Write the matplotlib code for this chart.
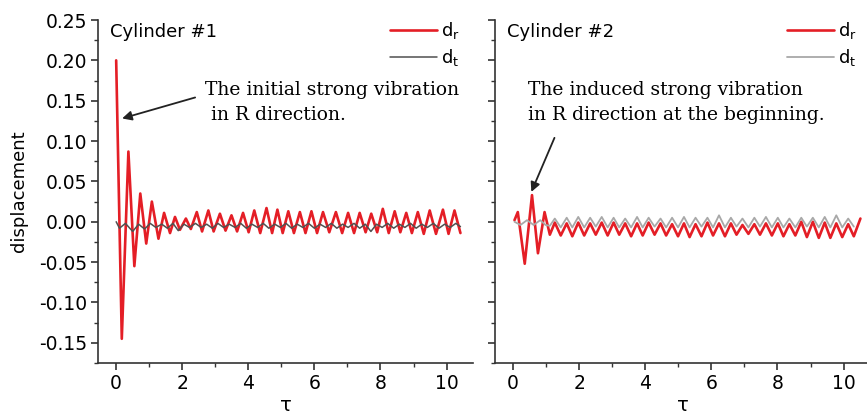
import numpy as np
import matplotlib
matplotlib.use("Agg")
import matplotlib.pyplot as plt
from matplotlib.ticker import MultipleLocator, FormatStrFormatter

# Cylinder #1, radial displacement d_r (extrema)
c1_dr_t = [0.00, 0.17, 0.37, 0.55, 0.73, 0.91, 1.08, 1.28, 1.45, 1.63,
           1.78, 1.93, 2.11, 2.26, 2.44, 2.60, 2.79, 2.95, 3.14, 3.31,
           3.49, 3.66, 3.84, 4.01, 4.18, 4.36, 4.55, 4.72, 4.88, 5.04,
           5.21, 5.38, 5.56, 5.73, 5.91, 6.08, 6.26, 6.45, 6.65, 6.84,
           7.02, 7.20, 7.37, 7.55, 7.72, 7.90, 8.07, 8.25, 8.43, 8.60,
           8.78, 8.95, 9.13, 9.31, 9.49, 9.68, 9.89, 10.06, 10.24, 10.42]
c1_dr = [0.200, -0.145, 0.087, -0.055, 0.035, -0.027, 0.025, -0.021, 0.011, -0.014,
         0.006, -0.010, 0.004, -0.009, 0.012, -0.012, 0.014, -0.012, 0.010, -0.011,
         0.008, -0.012, 0.011, -0.013, 0.014, -0.014, 0.017, -0.014, 0.015, -0.014,
         0.013, -0.014, 0.012, -0.014, 0.013, -0.014, 0.012, -0.013, 0.012, -0.014,
         0.011, -0.014, 0.011, -0.013, 0.010, -0.013, 0.016, -0.014, 0.013, -0.013,
         0.011, -0.014, 0.012, -0.015, 0.014, -0.015, 0.015, -0.015, 0.014, -0.014]

# Cylinder #1, tangential displacement d_t
c1_dt_t = [0.00, 0.10, 0.28, 0.50, 0.68, 0.86, 1.03, 1.20,
           1.38, 1.55, 1.72, 1.88, 2.05, 2.22, 2.40, 2.57, 2.74, 2.91,
           3.08, 3.25, 3.42, 3.60, 3.77, 3.94, 4.11, 4.28, 4.45, 4.62,
           4.80, 4.97, 5.14, 5.31, 5.48, 5.65, 5.82, 6.00, 6.17, 6.34,
           6.51, 6.68, 6.85, 7.02, 7.20, 7.37, 7.54, 7.71, 7.88, 8.05,
           8.22, 8.40, 8.57, 8.74, 8.91, 9.08, 9.25, 9.42, 9.60, 9.77,
           9.94, 10.11, 10.28, 10.42]
c1_dt = [0.000, -0.008, -0.002, -0.012, -0.003, -0.009, -0.002, -0.007,
         -0.003, -0.008, -0.002, -0.011, -0.003, -0.007, -0.002, -0.007, -0.003, -0.008,
         -0.002, -0.007, -0.003, -0.007, -0.002, -0.008, -0.003, -0.007, -0.002, -0.008,
         -0.003, -0.007, -0.002, -0.008, -0.003, -0.007, -0.002, -0.008, -0.003, -0.007,
         -0.002, -0.008, -0.003, -0.007, -0.002, -0.008, -0.003, -0.012, -0.003, -0.007,
         -0.002, -0.008, -0.003, -0.007, -0.002, -0.008, -0.003, -0.007, -0.002, -0.008,
         -0.003, -0.007, -0.002, -0.006]

# Cylinder #2
c2_steady_t = [1.11, 1.26, 1.44, 1.62, 1.79, 1.97, 2.15, 2.33, 2.50, 2.68, 2.86,
               3.04, 3.21, 3.39, 3.57, 3.75, 3.92, 4.10, 4.28, 4.46, 4.63,
               4.81, 4.99, 5.17, 5.34, 5.52, 5.70, 5.88, 6.05, 6.23, 6.41,
               6.59, 6.76, 6.94, 7.12, 7.30, 7.47, 7.65, 7.83, 8.01, 8.18,
               8.36, 8.54, 8.72, 8.89, 9.07, 9.25, 9.43, 9.60, 9.78, 9.96,
               10.14, 10.31]
c2_dr_t = [0.04, 0.14, 0.35, 0.57, 0.75, 0.95] + c2_steady_t + [10.51]
c2_dr = [0.002, 0.012, -0.052, 0.033, -0.039, 0.012,
         -0.016, -0.001, -0.017, -0.002, -0.018, -0.001, -0.017, -0.002, -0.016, -0.001, -0.017,
         -0.001, -0.016, -0.002, -0.018, -0.002, -0.017, -0.001, -0.016, -0.002, -0.017,
         -0.003, -0.018, -0.002, -0.019, -0.003, -0.018, -0.001, -0.017, -0.002, -0.018,
         -0.002, -0.016, -0.004, -0.015, -0.003, -0.016, -0.002, -0.017, -0.002, -0.018,
         -0.003, -0.017, 0.000, -0.019, 0.000, -0.020, -0.001, -0.020, -0.002, -0.019,
         -0.003, -0.018, 0.004]
c2_dt_t = [0.04, 0.22, 0.42, 0.62, 0.82, 0.98] + c2_steady_t
c2_dt = [0.000, -0.004, 0.002, -0.004, 0.002, -0.004,
         -0.005, 0.004, -0.007, 0.005, -0.007, 0.006, -0.007, 0.005, -0.006, 0.006, -0.007,
         0.005, -0.007, 0.004, -0.007, 0.006, -0.007, 0.005, -0.006, 0.004, -0.007,
         0.005, -0.007, 0.006, -0.007, 0.005, -0.006, 0.005, -0.007, 0.008, -0.007,
         0.005, -0.006, 0.004, -0.007, 0.005, -0.006, 0.006, -0.007, 0.005, -0.007,
         0.004, -0.007, 0.005, -0.006, 0.005, -0.007, 0.006, -0.007, 0.008, -0.007,
         0.004, -0.006]

red = "#e41e26"
sans = "DejaVu Sans"
serif = "DejaVu Serif"

fig = plt.figure(figsize=(8.67, 4.15), dpi=100)
ax1 = fig.add_axes([98 / 867, 52 / 415, 375 / 867, 343 / 415])
ax2 = fig.add_axes([495 / 867, 52 / 415, 375 / 867, 343 / 415])

line_kw = dict(solid_joinstyle="round", solid_capstyle="round")
ax1.plot(c1_dr_t, c1_dr, color=red, lw=1.9, label=r"d$_\mathregular{r}$", **line_kw)
ax1.plot(c1_dt_t, c1_dt, color="#505050", lw=1.1, label=r"d$_\mathregular{t}$", **line_kw)
ax2.plot(c2_dr_t, c2_dr, color=red, lw=1.9, label=r"d$_\mathregular{r}$", **line_kw)
ax2.plot(c2_dt_t, c2_dt, color="#a8a8a8", lw=1.3, label=r"d$_\mathregular{t}$", **line_kw)

for ax in (ax1, ax2):
    ax.set_xlim(-0.55, 10.8)
    ax.set_ylim(-0.175, 0.25)
    ax.spines["top"].set_visible(False)
    ax.spines["right"].set_visible(False)
    for s in ("left", "bottom"):
        ax.spines[s].set_linewidth(1.2)
        ax.spines[s].set_color("#333333")
    ax.xaxis.set_major_locator(MultipleLocator(2))
    ax.xaxis.set_minor_locator(MultipleLocator(1))
    ax.yaxis.set_major_locator(MultipleLocator(0.05))
    ax.yaxis.set_minor_locator(MultipleLocator(0.025))
    ax.tick_params(which="major", direction="out", length=5, width=1.2,
                   color="#333333", labelsize=13.5, pad=3)
    ax.tick_params(which="minor", direction="out", length=3, width=1.0,
                   color="#333333")
    for lab in ax.get_xticklabels() + ax.get_yticklabels():
        lab.set_family(sans)
    ax.set_xlabel("τ", fontsize=14, family=sans, labelpad=2)
    ax.legend(loc="upper right", bbox_to_anchor=(0.99, 1.025), frameon=False,
              borderpad=0, handlelength=2.6, handletextpad=0.25,
              labelspacing=0.3, prop={"family": sans, "size": 13})

ax1.yaxis.set_major_formatter(FormatStrFormatter("%.2f"))
ax2.tick_params(axis="y", labelleft=False)
ax1.set_ylabel("displacement", fontsize=13, family=sans, labelpad=8)

ax1.text(-0.18, 0.246, "Cylinder #1", fontsize=13, family=sans, va="top")
ax2.text(-0.2, 0.246, "Cylinder #2", fontsize=13, family=sans, va="top")

ax1.text(2.69, 0.175, "The initial strong vibration\n in R direction.",
         fontsize=13.5, family=serif, va="top", linespacing=1.55)
ax1.annotate("", xy=(0.18, 0.128), xytext=(2.39, 0.154),
             arrowprops=dict(arrowstyle="-|>", color="#222222", lw=1.3,
                             mutation_scale=14, shrinkA=0, shrinkB=0))
ax2.text(0.46, 0.175, "The induced strong vibration\nin R direction at the beginning.",
         fontsize=13.5, family=serif, va="top", linespacing=1.55)
ax2.annotate("", xy=(0.55, 0.037), xytext=(1.25, 0.104),
             arrowprops=dict(arrowstyle="-|>", color="#222222", lw=1.3,
                             mutation_scale=14, shrinkA=0, shrinkB=0))

fig.savefig("out.png", dpi=100)
